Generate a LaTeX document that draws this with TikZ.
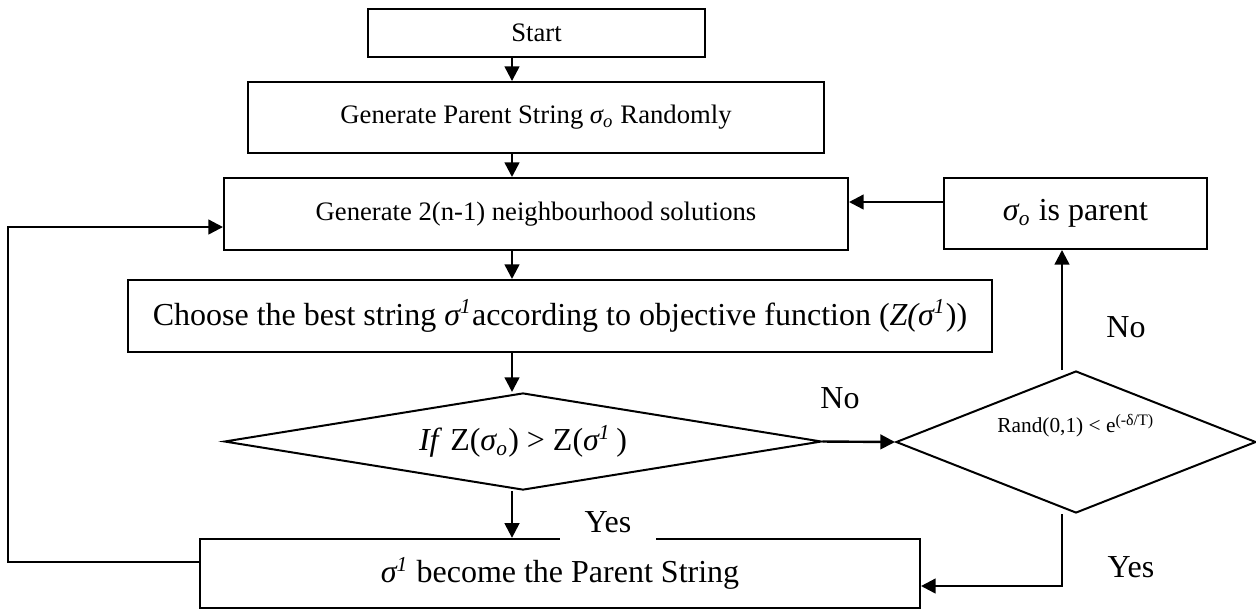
\documentclass[tikz,border=0pt]{standalone}
\usepackage{fontspec}
\setmainfont{Liberation Serif}
\usetikzlibrary{shapes.geometric,arrows.meta}
\newcommand{\sgo}{\textit{σ\textsubscript{o}}}
\newcommand{\sgi}{\textit{σ\textsuperscript{1}}}
\newcommand{\fsz}[1]{\fontsize{#1}{#1}\selectfont}
\begin{document}
\begin{tikzpicture}[x=0.375pt,y=-0.375pt]
\tikzstyle{box}=[draw,line width=0.75pt,rectangle,inner sep=0pt]
\tikzstyle{dia}=[draw,line width=0.75pt,diamond,inner sep=0pt]
\tikzstyle{arr}=[line width=0.9pt,-{Triangle[length=5.5pt,width=5.5pt]}]
\tikzstyle{lbl}=[inner sep=1pt,font=\fsz{12}]
\useasboundingbox (0,0) rectangle (1256,610);
\coordinate (spine) at (512,0);
\coordinate (upx) at (1062,0);
\coordinate (lp) at (8,0);
\coordinate (fb) at (0,202);
\coordinate (yb) at (0,586);
\coordinate (lb) at (0,562);
\coordinate (lt) at (0,227);
\node[box,minimum width=126.4pt,minimum height=18pt,font=\fsz{10}] (start) at (536.5,33) {Start};
\node[box,minimum width=216pt,minimum height=26.6pt,font=\fsz{10}] (parent) at (536,117.5) {Generate Parent String \sgo{} Randomly};
\node[box,minimum width=234pt,minimum height=27pt,font=\fsz{10}] (gen) at (536,214) {Generate 2(n-1) neighbourhood solutions};
\node[box,minimum width=98.6pt,minimum height=26.6pt,font=\fsz{12}] (sigpar) at (1075.5,213.5) {\sgo{} is parent};
\node[box,minimum width=324pt,minimum height=27pt,font=\fsz{12}] (choose) at (560,316) {Choose the best string \sgi according to objective function (\textit{Z(\sgi}))};
\node[dia,minimum width=224pt,minimum height=36.4pt,shape aspect=6,font=\fsz{12}] (cond) at (523,441.5) {\textit{If} Z(\sgo) > Z(\sgi\,)};
\node[dia,minimum width=135pt,minimum height=53.25pt,shape aspect=2.5,text depth=14pt,font=\fsz{8}] (rand) at (1076,442) {Rand(0,1) < e\textsuperscript{(-δ/T)}};
\node[box,minimum width=270pt,minimum height=26pt,font=\fsz{12}] (final) at (560,573.5) {\sgi{} become the Parent String};
\draw[arr] (start.south -| spine) -- (parent.north -| spine);
\draw[arr] (parent.south -| spine) -- (gen.north -| spine);
\draw[arr] (gen.south -| spine) -- (choose.north -| spine);
\draw[arr] (choose.south -| spine) -- (cond.north -| spine);
\draw[arr] (cond.south -| spine) -- (final.north -| spine);
\draw[arr] (cond.east) -- (rand.west);
\draw[arr] (rand.north -| upx) -- (sigpar.south -| upx);
\draw[arr] (sigpar.west |- fb) -- (gen.east |- fb);
\draw[arr] (rand.south -| upx) |- (final.east |- yb);
\draw[arr] (final.west |- lb) -- (lp |- lb) -- (lp |- lt) -- (gen.west |- lt);
\node[lbl] (no1) at (840,398) {No};
\node[lbl] (no2) at (1126,327) {No};
\node[lbl] (yes2) at (1131,567) {Yes};
\node[lbl,fill=white,minimum width=36pt,minimum height=13.5pt] (yes1) at (608,522) {Yes};
\end{tikzpicture}
\end{document}
